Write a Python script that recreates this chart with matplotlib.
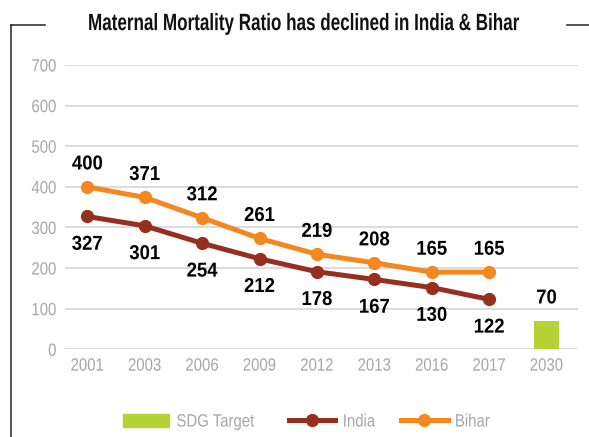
import matplotlib
matplotlib.use("Agg")
import matplotlib.pyplot as plt
from matplotlib.lines import Line2D
from matplotlib.patches import Patch
from matplotlib.patheffects import AbstractPathEffect
from matplotlib.transforms import Affine2D
import numpy as np

# ---- data ----
years = ["2001", "2003", "2006", "2009", "2012", "2013", "2016", "2017", "2030"]
india_values = [327, 304, 261, 223, 191, 172, 152, 123]       # plotted positions
india_labels = [327, 301, 254, 212, 178, 167, 130, 122]       # printed labels
bihar_values = [400, 374, 324, 273, 234, 213, 190, 190]       # plotted positions
bihar_labels = [400, 371, 312, 261, 219, 208, 165, 165]       # printed labels
sdg_target = 70
title = "Maternal Mortality Ratio has declined in India & Bihar"

# ---- styling ----
FAM = ["Liberation Sans", "DejaVu Sans"]
plt.rcParams["font.family"] = FAM

C_BIHAR = "#F5871F"
C_INDIA = "#962F20"
C_SDG = "#B5D334"
C_TICK = "#A6A6A6"
C_GRID = "#D9D9D9"


class Squeeze(AbstractPathEffect):
    """Rescale rendered text glyphs (text stays a Text artist)."""
    def __init__(self, sx, anchor="center", sy=1.0):
        super().__init__()
        self.sx = sx
        self.sy = sy
        self.anchor = anchor

    def draw_path(self, renderer, gc, tpath, affine, rgbFace=None):
        ext = tpath.get_extents(affine)
        if self.anchor == "center":
            cx = (ext.x0 + ext.x1) / 2
        elif self.anchor == "right":
            cx = ext.x1
        else:
            cx = ext.x0
        cy = (ext.y0 + ext.y1) / 2
        aff = affine + Affine2D().translate(-cx, -cy).scale(self.sx, self.sy).translate(cx, cy)
        renderer.draw_path(gc, tpath, aff, rgbFace)


W, H = 589, 437
fig = plt.figure(figsize=(W / 100, H / 100), dpi=100)

left, right, bottom, top = 65, 578, 349.3, 65
ax = fig.add_axes([left / W, 1 - bottom / H, (right - left) / W, (bottom - top) / H])

x = np.arange(len(years))
ax.bar(x[8], sdg_target, width=0.45, color=C_SDG, zorder=2)
ax.plot(x[:8], india_values, color=C_INDIA, lw=3.6, marker="o", ms=8.5, zorder=3)
ax.plot(x[:8], bihar_values, color=C_BIHAR, lw=3.6, marker="o", ms=8.5, zorder=3)

lab_kw = dict(textcoords="offset points", ha="center", va="center",
              fontsize=14.5, fontweight="bold", color="black")
labs = []
for xi, v, l in zip(x[:8], bihar_values, bihar_labels):
    labs.append(ax.annotate(str(l), (xi, v), xytext=(0, 16.5), **lab_kw))
for xi, v, l in zip(x[:8], india_values, india_labels):
    labs.append(ax.annotate(str(l), (xi, v), xytext=(0, -20), **lab_kw))
labs.append(ax.annotate(str(sdg_target), (x[8], sdg_target), xytext=(0, 16.5), **lab_kw))
for a in labs:
    a.set_path_effects([Squeeze(0.92, "center")])

scale = 57.4
ax.set_xlim((left - 87.3) / scale, (right - 87.3) / scale)
ax.set_ylim(0, 700)
ax.set_yticks(range(0, 800, 100))
ax.set_xticks(x)
ax.set_xticklabels(years)
ax.tick_params(axis="both", length=0, labelsize=12.8, labelcolor=C_TICK)
ax.tick_params(axis="y", pad=6)
ax.tick_params(axis="x", pad=6)
for s in ax.spines.values():
    s.set_visible(False)
ax.grid(axis="y", color=C_GRID, lw=1.3, zorder=0)
ax.set_axisbelow(True)
for lab in ax.get_xticklabels():
    lab.set_path_effects([Squeeze(0.84, "center")])
for lab in ax.get_yticklabels():
    lab.set_path_effects([Squeeze(0.84, "right")])

# frame lines
def fl(xs, ys):
    fig.add_artist(Line2D([v / W for v in xs], [1 - v / H for v in ys],
                          transform=fig.transFigure, color="#222222", lw=1.1))
fl([11, 11], [25, 437])
fl([11, 45], [25, 25])
fl([567, 589], [25, 25])

# title, condensed to reference width
TFS = 14
t = fig.text(304 / W, 1 - 24.5 / H, title, ha="center", va="center",
             fontsize=TFS, fontweight="bold", color="#111111")
fig.canvas.draw()
w = t.get_window_extent().width
t.set_path_effects([Squeeze(432 / w, "center", sy=17 / TFS)])

handles = [Patch(color=C_SDG, label="SDG Target"),
           Line2D([], [], color=C_INDIA, lw=3.6, marker="o", ms=8.5, label="India"),
           Line2D([], [], color=C_BIHAR, lw=3.6, marker="o", ms=8.5, label="Bihar")]
leg = fig.legend(handles=handles, loc="center left", bbox_to_anchor=(123 / W, 1 - 422 / H),
                 ncol=3, frameon=False, fontsize=12.8, handlelength=2.6,
                 handletextpad=0.4, columnspacing=1.15, borderpad=0, borderaxespad=0)
for txt in leg.get_texts():
    txt.set_color(C_TICK)
    txt.set_path_effects([Squeeze(0.84, "left")])

fig.savefig("out.png", dpi=100)
